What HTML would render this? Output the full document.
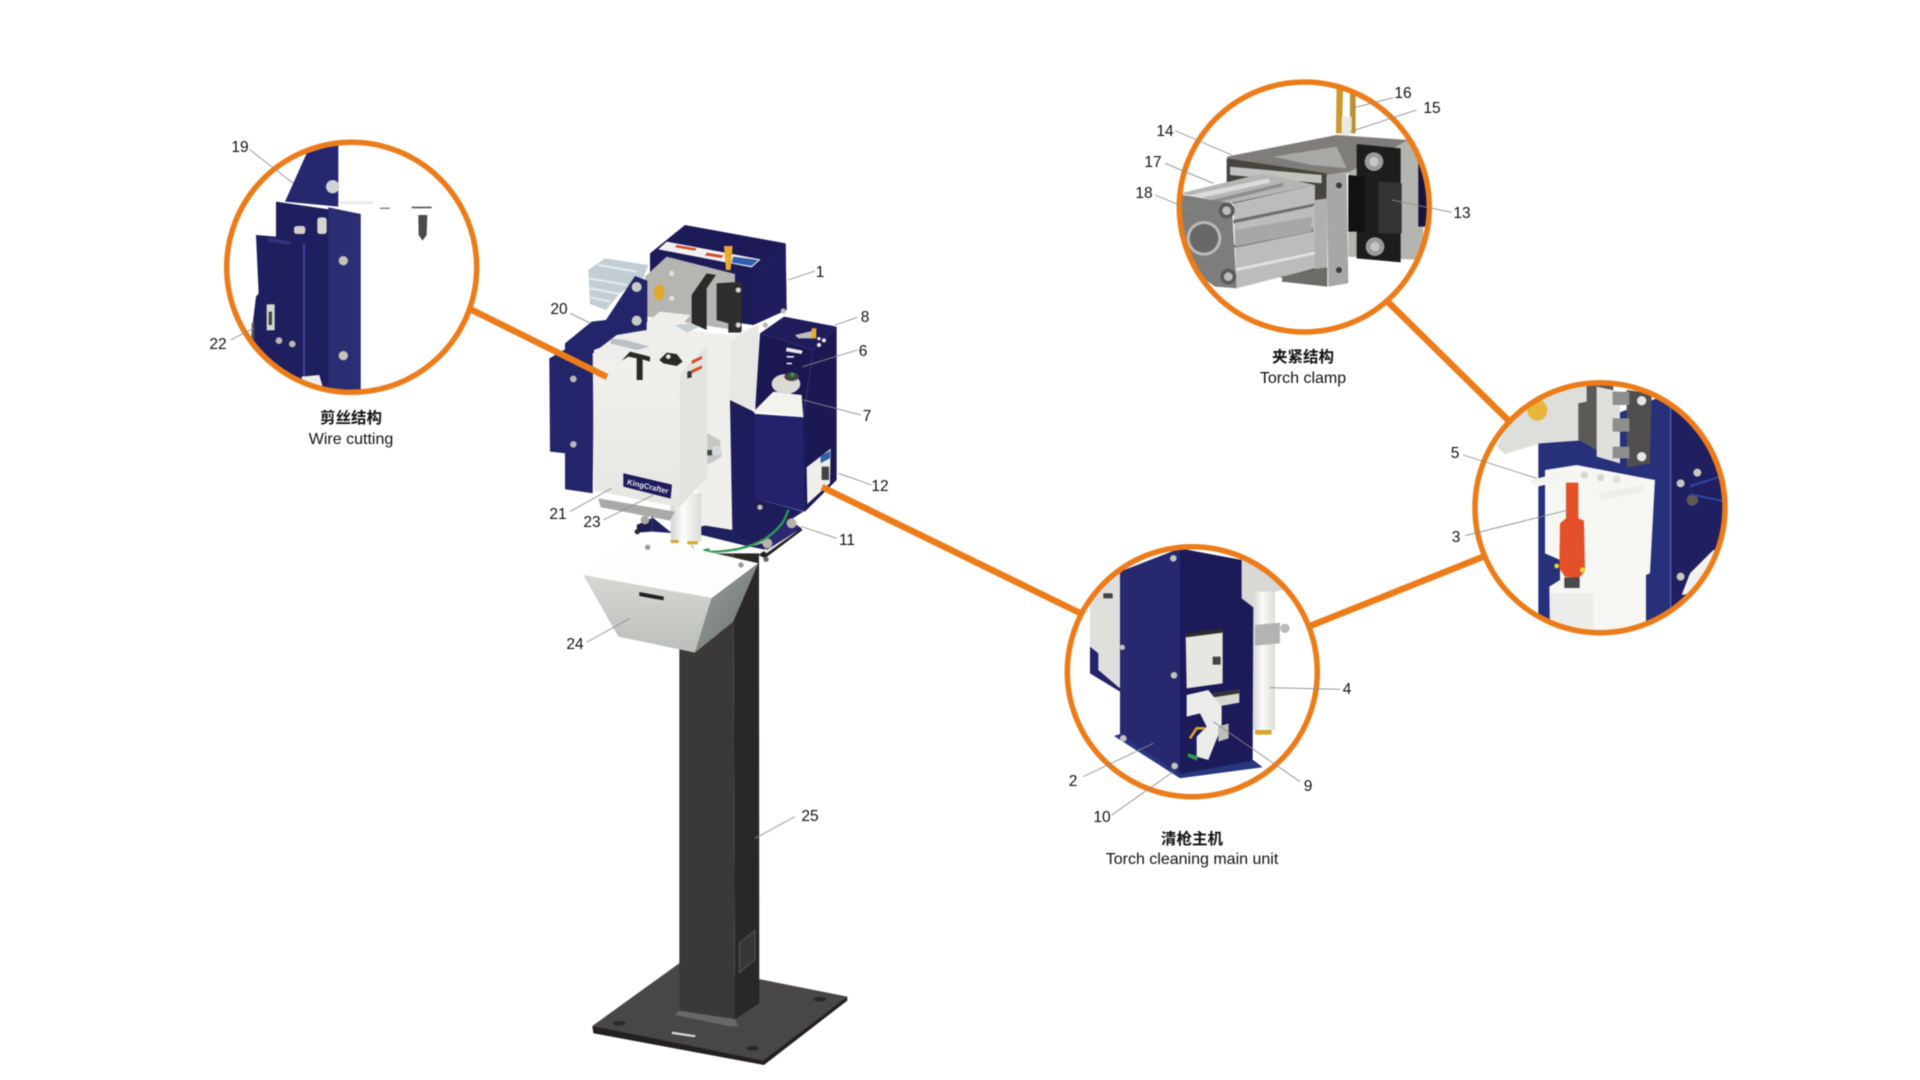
<!DOCTYPE html>
<html><head><meta charset="utf-8"><title>Torch cleaning station</title>
<style>
html,body{margin:0;padding:0;background:#fff;width:1920px;height:1080px;overflow:hidden}
svg{display:block;filter:blur(.45px)}
text{font-family:"Liberation Sans","Noto Sans CJK SC",sans-serif;fill:#111;text-anchor:middle}
.n{font-size:15.5px}
.c{font-size:15.5px;font-weight:700}
.e{font-size:16px}
.l line{stroke:#8c8c8c;stroke-width:2.6}
</style></head><body>
<svg width="1920" height="1080" viewBox="0 0 1920 1080" xmlns="http://www.w3.org/2000/svg">
<defs>
<clipPath id="ca"><circle cx="351.7" cy="267.3" r="125"/></clipPath>
<clipPath id="cb"><circle cx="1304.3" cy="207" r="125"/></clipPath>
<clipPath id="cc"><circle cx="1192.3" cy="671.7" r="125"/></clipPath>
<clipPath id="cd"><circle cx="1600" cy="507.7" r="125"/></clipPath>
<linearGradient id="hop" x1="0" y1="0" x2="0" y2="1"><stop offset="0" stop-color="#d6d8d3"/><stop offset="1" stop-color="#bcbfb9"/></linearGradient>
<linearGradient id="hop2" x1="0" y1="0" x2="1" y2="1"><stop offset="0" stop-color="#9aa09b"/><stop offset="1" stop-color="#6b716d"/></linearGradient>
<linearGradient id="cov" x1="0" y1="0" x2="0" y2="1"><stop offset="0" stop-color="#f1f2ee"/><stop offset="1" stop-color="#e6e7e3"/></linearGradient>
<linearGradient id="cyl" x1="0" y1="0" x2="1" y2="0"><stop offset="0" stop-color="#d5d7d3"/><stop offset=".4" stop-color="#fbfbf9"/><stop offset="1" stop-color="#dcddd9"/></linearGradient>
</defs>

<!-- pole and base -->
<g transform="translate(560,620) scale(.3333)">
<polygon points="97,1218 358,1030 862,1130 610,1332" fill="#494745"/>
<polygon points="97,1218 610,1322 862,1130 862,1142 612,1335 100,1240" fill="#232120"/>
<polygon points="345,1185 360,1170 525,1195 535,1220 505,1218" fill="#6a6866"/>
<polygon points="358,-200 520,-200 525,1198 358,1172" fill="#3b3838"/>
<polygon points="520,-200 597,-200 598,1150 525,1198" fill="#2a2727"/>
<polygon points="538,968 585,932 585,1020 538,1058" fill="#393636" stroke="#666" stroke-width="2"/>
<polygon points="337,1235 408,1246 404,1252 335,1242" fill="#d8d8d6"/>
<ellipse cx="177" cy="1210" rx="19" ry="7" fill="#2b2928"/>
<ellipse cx="780" cy="1138" rx="19" ry="7" fill="#2b2928"/>
<ellipse cx="578" cy="1285" rx="19" ry="7" fill="#2b2928"/>
</g>

<!-- main machine -->
<g transform="translate(520,210) scale(.3333)">
<!-- back box -->
<polygon points="390,130 495,45 797,100 800,300 700,345 390,300" fill="#1d1a58"/>
<polygon points="700,190 797,100 800,300 700,345" fill="#201d5e"/>
<polygon points="415,118 440,95 722,148 695,172" fill="#f1f1f1"/>
<polygon points="470,105 530,115 525,122 465,112" fill="#d84a2a"/>
<polygon points="560,128 610,136 605,144 555,136" fill="#d84a2a"/>
<polygon points="640,140 715,150 695,168 635,158" fill="#2f61ab"/>
<polygon points="612,108 638,108 632,180 618,180" fill="#e9ab2d"/>
<!-- cylinder -->
<polygon points="205,180 255,145 385,165 370,205 300,250 258,300 210,282" fill="#c3ced4"/>
<path d="M208,205 L320,225 M210,235 L300,252 M212,262 L270,275 M235,165 L350,185" stroke="#e7ecef" stroke-width="6" fill="none"/>
<!-- bracket -->
<polygon points="375,200 440,140 645,192 645,360 380,320" fill="#b5b5b2"/>
<polygon points="515,255 560,190 588,195 560,235 560,360 515,340" fill="#2b2a2a"/>
<polygon points="590,220 665,215 665,368 625,368 625,340 590,330" fill="#2f2e2e"/>
<ellipse cx="418" cy="247" rx="16" ry="24" fill="#e3a72b"/>
<circle cx="455" cy="190" r="8" fill="#e0e0de"/><circle cx="455" cy="265" r="8" fill="#e0e0de"/>
<circle cx="655" cy="240" r="8" fill="#d5d5d3"/><circle cx="655" cy="345" r="8" fill="#d5d5d3"/>
<!-- left navy plate -->
<polygon points="88,445 135,418 135,400 215,335 258,330 345,198 382,212 382,360 222,420 218,850 135,838 135,730 90,725" fill="#23246a"/>
<circle cx="350" cy="231" r="15" fill="#c8cbc9"/><circle cx="350" cy="332" r="15" fill="#c8cbc9"/>
<circle cx="160" cy="507" r="10" fill="#b8b8b0"/><circle cx="160" cy="703" r="10" fill="#b8b8b0"/>
<!-- body behind -->
<polygon points="395,920 450,965 540,950 630,930 630,570 695,600 700,1008 840,960 740,1020 680,1008 545,975 395,965" fill="#20205f"/>
<polygon points="630,570 695,600 705,610 705,865 850,905 780,950 700,1008 640,960" fill="#1e1c5a"/>
<!-- white rear panel -->
<polygon points="385,350 640,375 715,345 718,570 695,602 630,570 637,960 545,945 500,600" fill="#eff0ec"/>
<polygon points="630,395 715,345 718,570 695,602 628,565" fill="#e7e8e3"/>
<!-- right box -->
<polygon points="720,370 792,320 950,350 880,420" fill="#1f1c5c"/>
<polygon points="720,370 880,420 850,620 705,600 705,610" fill="#1a1752"/>
<polygon points="880,420 950,350 950,810 855,905 705,865 705,612 850,622" fill="#1b1854"/>
<polygon points="705,612 850,622 855,905 705,865" fill="#23226a"/>
<polygon points="705,600 760,545 845,555 850,622" fill="#f2f2ee"/>
<ellipse cx="798" cy="522" rx="43" ry="30" fill="#dbdad2"/>
<ellipse cx="815" cy="500" rx="22" ry="13" fill="#46463f"/>
<circle cx="817" cy="494" r="7" fill="#2c9a4d"/>
<polygon points="800,412 848,422 845,432 798,424" fill="#e6e6ea"/>
<rect x="800" y="438" width="22" height="5" fill="#e6e6ea"/><rect x="800" y="458" width="16" height="5" fill="#e6e6ea"/>
<polygon points="825,375 880,362 884,385 835,385" fill="#bdbdbd"/>
<rect x="875" y="355" width="14" height="30" fill="#e9ab2d"/>
<circle cx="897" cy="405" r="6" fill="#eee"/><circle cx="912" cy="391" r="6" fill="#eee"/><circle cx="897" cy="386" r="5" fill="#eee"/>
<polygon points="860,772 932,716 930,820 862,882" fill="#eeeeea"/>
<rect x="905" y="770" width="22" height="40" fill="#444"/>
<polygon points="902,738 930,722 930,745 902,760" fill="#2f61ab"/>
<circle cx="736" cy="345" r="8" fill="#b9b9b4"/><circle cx="790" cy="303" r="8" fill="#b9b9b4"/><circle cx="720" cy="892" r="8" fill="#b9b9b4"/>
<!-- nozzle behind cover -->
<rect x="452" y="850" width="92" height="145" fill="url(#cyl)"/>
<rect x="452" y="990" width="24" height="9" fill="#d9a52c"/><rect x="502" y="994" width="32" height="9" fill="#d9a52c"/>
<!-- front cover -->
<polygon points="218,430 290,375 380,360 380,338 420,305 512,315 480,350 562,405 480,492" fill="#eeefeb"/>
<polygon points="218,430 480,492 478,892 222,842" fill="url(#cov)"/>
<polygon points="480,492 562,405 562,802 478,892" fill="#e3e4e0"/>
<polygon points="235,865 465,905 450,932 242,892" fill="#a9aaa8"/>
<!-- slots -->
<path d="M305,452 L330,425 L390,440 L390,455 L368,448 L368,510 L350,510 L350,445 L325,440 Z" fill="#2a2929"/>
<path d="M418,450 L440,428 L470,432 L488,455 L470,468 L430,460 Z" fill="#2a2929"/>
<circle cx="445" cy="440" r="7" fill="#e8e8e4"/>
<polygon points="275,385 315,390 390,410 350,420 270,400" fill="#b9c0c4"/>
<polygon points="515,452 546,438 546,447 515,462" fill="#d84a2a"/>
<polygon points="515,480 546,466 546,475 515,490" fill="#d84a2a"/>
<polygon points="502,485 515,482 515,502 502,505" fill="#333"/>
<polygon points="465,345 510,340 540,350 500,368" fill="#c7ced3"/>
<!-- logo -->
<polygon points="310,790 456,824 452,866 310,830" fill="#1d1c5c"/>
<text transform="translate(382,837) rotate(13)" style="font-size:23px;font-weight:700;fill:#e9e9ef">KingCrafter</text>
<!-- side knob -->
<polygon points="562,670 600,690 605,740 562,765" fill="#c7c8c4"/>
<circle cx="590" cy="722" r="15" fill="#d7dadb"/>
<rect x="562" y="720" width="14" height="16" fill="#444"/>
<polygon points="350,945 395,925 395,965 352,968" fill="#1f1e50"/>
<circle cx="375" cy="930" r="13" fill="#a9a9a3"/>
<circle cx="352" cy="965" r="8" fill="#2a2a2a"/>
<!-- mount -->
<polygon points="715,1035 835,950 848,960 735,1045" fill="#222"/>
<polygon points="728,1022 822,957 830,965 740,1030" fill="#e9e9e5"/>
<polygon points="730,985 800,925 845,955 740,1020" fill="#2a2870"/>
<circle cx="815" cy="940" r="15" fill="#b5b5ae"/><circle cx="742" cy="1000" r="15" fill="#b5b5ae"/>
<circle cx="738" cy="1048" r="8" fill="#666"/>
<path d="M805,900 C790,950 735,1025 562,1026" fill="none" stroke="#2b9a4e" stroke-width="7"/>
<path d="M515,1005 L530,1032 L560,1032" fill="none" stroke="#999" stroke-width="3"/>
<polygon points="550,1018 570,1015 565,1035 552,1036" fill="#2b9a4e"/>
<!-- hopper -->
<polygon points="190,1095 345,975 715,1060 575,1165" fill="#fdfdfc"/>
<polygon points="190,1095 575,1165 525,1328 295,1280" fill="url(#hop)"/>
<polygon points="575,1165 715,1060 640,1235 525,1328" fill="url(#hop2)"/>
<polygon points="358,1146 432,1160 430,1172 358,1158" fill="#222"/>
<polygon points="362,1160 436,1172 436,1186 362,1175" fill="#cfd1cc"/>
<circle cx="383" cy="1012" r="8" fill="#999"/><circle cx="663" cy="1065" r="8" fill="#999"/>
<!-- leaders -->
<g class="l">
<line x1="805" y1="210" x2="885" y2="183"/><line x1="945" y1="345" x2="1012" y2="322"/>
<line x1="848" y1="470" x2="1012" y2="420"/><line x1="850" y1="570" x2="1022" y2="615"/>
<line x1="955" y1="790" x2="1055" y2="825"/><line x1="845" y1="950" x2="950" y2="985"/>
<line x1="150" y1="310" x2="212" y2="340"/><line x1="150" y1="905" x2="275" y2="835"/>
<line x1="250" y1="930" x2="400" y2="855"/><line x1="200" y1="1297" x2="330" y2="1225"/>
</g>
</g>
<g class="l" transform="translate(560,620) scale(.3333)"><line x1="705" y1="590" x2="585" y2="655"/></g>

<!-- connectors -->
<g stroke="#ec7c1a" stroke-width="6.5" fill="none">
<line x1="470" y1="309" x2="607" y2="377"/>
<line x1="1385" y1="299" x2="1511" y2="423"/>
<line x1="822" y1="487" x2="1082" y2="614"/>
<line x1="1310" y1="626" x2="1485" y2="556"/>
</g>

<!-- circle A : wire cutting -->
<circle cx="351.7" cy="267.3" r="125" fill="#fff"/>
<g clip-path="url(#ca)"><g transform="translate(200,120) scale(.3333)">
<polygon points="320,100 415,70 415,260 255,245" fill="#26276e"/>
<polygon points="168,345 228,350 228,245 482,282 482,830 340,830 200,740 150,680 168,530 176,520" fill="#1f1e5e"/>
<polygon points="385,262 482,282 482,830 385,820" fill="#2b2d73"/>
<line x1="312" y1="370" x2="312" y2="780" stroke="#33449a" stroke-width="7"/>
<polygon points="205,352 272,365 270,375 205,365" fill="#33347c"/>
<rect x="200" y="553" width="24" height="78" fill="#d6d6d2"/><rect x="206" y="575" width="10" height="40" fill="#444"/>
<circle cx="430" cy="422" r="14" fill="#c3c3b9"/><circle cx="430" cy="707" r="14" fill="#c3c3b9"/>
<circle cx="398" cy="200" r="20" fill="#cfd3d3"/>
<circle cx="237" cy="662" r="10" fill="#b8b8ae"/><circle cx="277" cy="672" r="10" fill="#b8b8ae"/>
<rect x="352" y="292" width="28" height="50" rx="8" fill="#d5d5cf"/>
<rect x="282" y="318" width="34" height="24" rx="8" fill="#cfcfc9"/>
<path d="M655,285 L682,285 L680,345 L668,362 L656,345 Z" fill="#4c4a4a"/>
<polygon points="305,770 358,765 368,800 340,820 305,800" fill="#eeeeea"/>
<rect x="420" y="244" width="100" height="8" fill="#e8e8e8"/>
<rect x="635" y="260" width="60" height="5" fill="#555"/><rect x="540" y="263" width="30" height="4" fill="#777"/>
<polygon points="155,610 163,605 163,660 155,655" fill="#555"/>
</g></g>
<circle cx="351.7" cy="267.3" r="125" fill="none" stroke="#ec7c1a" stroke-width="5.5"/>
<g class="l" transform="translate(200,120) scale(.3333)"><line x1="148" y1="88" x2="280" y2="190"/><line x1="92" y1="660" x2="160" y2="625"/></g>

<!-- circle B : clamp -->
<circle cx="1304.3" cy="207" r="125" fill="#fff"/>
<g clip-path="url(#cb)"><g transform="translate(1130,60) scale(.3333)">
<polygon points="620,60 640,60 636,220 618,220" fill="#c99a2c"/>
<polygon points="660,60 677,60 677,220 660,220" fill="#b9912f"/>
<polygon points="635,170 665,170 665,225 635,225" fill="#e8e8e4"/>
<polygon points="655,240 835,240 880,300 880,600 655,590" fill="#b4b4b1"/>
<polygon points="865,300 900,300 900,500 865,500" fill="#15143a"/>
<polygon points="290,290 620,225 690,230 835,240 650,340 590,350 300,310" fill="#7e7d7a"/>
<polygon points="430,290 620,260 650,325 545,315" fill="#a8a8a5"/>
<polygon points="290,295 590,340 590,680 440,650 290,400" fill="#45443f"/>
<polygon points="300,320 575,345 575,370 300,345" fill="#c2c2bf"/>
<polygon points="555,420 592,415 592,622 555,628" fill="#b0b1ae"/>
<polygon points="460,645 592,622 592,680 455,665" fill="#6d6c69"/>
<polygon points="680,252 812,265 812,607 680,595" fill="#1e1d1d"/>
<polygon points="655,345 705,350 705,515 655,515" fill="#111"/>
<polygon points="745,365 815,370 815,520 745,520" fill="#353434"/>
<circle cx="732" cy="305" r="28" fill="#9a9c9a"/><circle cx="732" cy="305" r="14" fill="#c5c7c5"/>
<circle cx="735" cy="560" r="28" fill="#9a9c9a"/><circle cx="735" cy="560" r="14" fill="#c5c7c5"/>
<polygon points="590,345 650,335 655,670 595,680" fill="#a7a8a5"/>
<circle cx="627" cy="376" r="9" fill="#3c3b39"/><circle cx="627" cy="630" r="9" fill="#3c3b39"/>
<polygon points="150,400 400,340 555,375 300,430" fill="#b5b6b3"/>
<polygon points="180,405 415,355 420,368 185,420" fill="#dbdcda"/>
<polygon points="225,425 460,368 462,378 225,437" fill="#8f908d"/>
<polygon points="310,430 555,375 555,625 320,685" fill="#bcbdba"/>
<polygon points="310,480 555,430 548,440 310,490" fill="#6e6f6c"/>
<polygon points="305,555 548,505 550,515 305,565" fill="#6e6f6c"/>
<polygon points="315,625 555,575 555,583 315,635" fill="#e1e2df"/>
<polygon points="315,510 545,470 545,515 315,560" fill="#a7a8a5"/>
<polygon points="130,400 305,430 320,685 255,680 130,590" fill="#7d7e7b"/>
<circle cx="222" cy="535" r="52" fill="#b9bab7"/><circle cx="222" cy="535" r="43" fill="#666866"/>
<circle cx="290" cy="452" r="24" fill="#5a5b59"/><circle cx="290" cy="452" r="13" fill="#bcbdba"/>
<circle cx="295" cy="650" r="24" fill="#5a5b59"/><circle cx="295" cy="650" r="13" fill="#bcbdba"/>
</g></g>
<circle cx="1304.3" cy="207" r="125" fill="none" stroke="#ec7c1a" stroke-width="5.5"/>
<g class="l" transform="translate(1130,60) scale(.3333)">
<line x1="790" y1="113" x2="665" y2="145"/><line x1="860" y1="150" x2="660" y2="215"/>
<line x1="135" y1="212" x2="305" y2="285"/><line x1="105" y1="310" x2="250" y2="370"/>
<line x1="75" y1="405" x2="185" y2="450"/><line x1="965" y1="457" x2="785" y2="420"/>
</g>

<!-- circle C : main unit -->
<circle cx="1192.3" cy="671.7" r="125" fill="#fff"/>
<g clip-path="url(#cc)"><g transform="translate(1040,530) scale(.3333)">
<polygon points="150,200 240,125 240,480 150,430" fill="#dfe0dc"/>
<polygon points="150,350 175,370 175,420 240,475 240,485 150,430" fill="#23226a"/>
<rect x="190" y="190" width="28" height="15" fill="#444"/>
<polygon points="605,60 760,170 690,190 640,232 605,212" fill="#d8d9d5"/>
<rect x="640" y="185" width="65" height="415" fill="url(#cyl)"/>
<polygon points="645,285 720,278 720,340 645,347" fill="#b3b4b1"/>
<circle cx="735" cy="295" r="14" fill="#b8bab7"/>
<rect x="645" y="600" width="50" height="14" fill="#d9a52c"/>
<polygon points="222,618 420,745 668,712 640,690 420,720 240,612" fill="#27377f"/>
<polygon points="240,125 420,55 420,732 240,612" fill="#27286e"/>
<polygon points="420,55 605,90 605,205 640,232 638,692 420,732" fill="#1c1a58"/>
<polygon points="437,315 548,305 548,460 440,475" fill="#e7e7e1"/>
<polygon points="437,312 548,295 548,308 437,322" fill="#2d2d2d"/>
<rect x="518" y="380" width="24" height="24" fill="#444"/>
<polygon points="520,490 598,478 598,518 520,532" fill="#d8d8d2"/>
<polygon points="520,490 598,478 598,490 520,502" fill="#333"/>
<path d="M440,495 L505,480 L545,530 L545,590 L525,640 L505,690 L470,680 L470,620 L500,590 L480,550 L440,560 Z" fill="#ecedea"/>
<polygon points="535,590 566,580 566,625 535,635" fill="#bcbcb8"/>
<path d="M450,625 L470,595 L495,595" fill="none" stroke="#d4a92a" stroke-width="8"/>
<polygon points="445,670 475,680 470,692 442,680" fill="#2b9a4e"/>
<circle cx="400" cy="85" r="10" fill="#c3c3bb"/><circle cx="402" cy="436" r="10" fill="#c3c3bb"/>
<circle cx="247" cy="352" r="8" fill="#c3c3bb"/><circle cx="250" cy="625" r="10" fill="#c3c3bb"/>
<circle cx="404" cy="708" r="10" fill="#c3c3bb"/>
</g></g>
<circle cx="1192.3" cy="671.7" r="125" fill="none" stroke="#ec7c1a" stroke-width="5.5"/>
<g class="l" transform="translate(1040,530) scale(.3333)">
<line x1="900" y1="478" x2="690" y2="473"/><line x1="780" y1="755" x2="520" y2="575"/>
<line x1="130" y1="740" x2="340" y2="640"/><line x1="215" y1="855" x2="400" y2="725"/>
</g>

<!-- circle D -->
<circle cx="1600" cy="507.7" r="125" fill="#fff"/>
<g clip-path="url(#cd)"><g transform="translate(1430,360) scale(.3333)">
<polygon points="325,250 720,100 900,200 900,830 325,830" fill="#27307a"/>
<polygon points="725,130 900,200 900,830 725,830" fill="#1f1f62"/>
<line x1="722" y1="120" x2="722" y2="760" stroke="#5d6bb5" stroke-width="3"/>
<polygon points="200,260 290,90 470,60 470,240 330,250 225,282" fill="#dededb"/>
<ellipse cx="322" cy="150" rx="30" ry="32" fill="#e7b63a"/>
<polygon points="445,130 470,125 470,60 550,60 550,300 465,250 445,240" fill="#5b5a58"/>
<polygon points="500,80 570,95 570,310 500,290" fill="#dfe0dc"/>
<polygon points="590,90 665,100 660,310 590,322" fill="#514f4e"/>
<rect x="548" y="95" width="50" height="40" fill="#8d8f8e"/><rect x="548" y="175" width="50" height="40" fill="#8d8f8e"/><rect x="548" y="260" width="50" height="35" fill="#8d8f8e"/>
<circle cx="635" cy="122" r="14" fill="#e7e7e5"/><circle cx="635" cy="290" r="14" fill="#e7e7e5"/>
<polygon points="345,330 440,315 675,360 660,640 648,645 648,830 360,830 358,680 390,660 390,600 345,580" fill="#f6f6f3"/>
<rect x="360" y="700" width="130" height="130" fill="#ecece8"/>
<polygon points="300,360 430,330 440,350 315,382" fill="#f3f3f0"/>
<polygon points="505,400 640,375 640,395 515,420" fill="#eeeeea"/>
<circle cx="463" cy="345" r="11" fill="#d8d8d2"/><circle cx="512" cy="353" r="11" fill="#d8d8d2"/><circle cx="560" cy="358" r="11" fill="#dededa"/>
<polygon points="408,368 445,368 445,475 462,482 465,635 445,655 405,650 388,625 390,490 408,475" fill="#e4502a"/>
<rect x="403" y="652" width="46" height="32" fill="#4a4a4a"/>
<circle cx="380" cy="618" r="7" fill="#e6d92d"/><circle cx="458" cy="630" r="8" fill="#e6d92d"/>
<circle cx="752" cy="370" r="12" fill="#c8c8be"/><circle cx="802" cy="338" r="12" fill="#c8c8be"/>
<circle cx="787" cy="420" r="17" fill="#5e5c52"/><circle cx="752" cy="650" r="12" fill="#c8c8be"/>
<polygon points="780,640 850,570 900,570 900,640 790,700 755,705" fill="#f1f1ee"/>
<polygon points="780,375 880,345 880,350 780,382" fill="#3347a0"/>
<polygon points="780,400 880,420 880,426 780,406" fill="#3347a0"/>
</g></g>
<circle cx="1600" cy="507.7" r="125" fill="none" stroke="#ec7c1a" stroke-width="5.5"/>
<g class="l" transform="translate(1430,360) scale(.3333)">
<line x1="100" y1="285" x2="320" y2="355"/><line x1="105" y1="527" x2="415" y2="450"/>
</g>

<!-- number labels -->
<g class="n">
<text x="820" y="277">1</text><text x="865" y="322">8</text><text x="863" y="356">6</text><text x="867" y="421">7</text>
<text x="880" y="491">12</text><text x="847" y="545">11</text><text x="559" y="314">20</text><text x="558" y="519">21</text>
<text x="592" y="527">23</text><text x="575" y="649">24</text><text x="810" y="821">25</text>
<text x="240" y="152">19</text><text x="218" y="349">22</text>
<text x="1403" y="98">16</text><text x="1432" y="113">15</text><text x="1165" y="136">14</text><text x="1153" y="167">17</text><text x="1144" y="198">18</text><text x="1462" y="218">13</text>
<text x="1455" y="458">5</text><text x="1456" y="542">3</text>
<text x="1347" y="694">4</text><text x="1308" y="791">9</text><text x="1073" y="786">2</text><text x="1102" y="822">10</text>
</g>

<!-- captions -->
<text class="c" x="351" y="423">剪丝结构</text><text class="e" x="351" y="444">Wire cutting</text>
<text class="c" x="1303" y="362">夹紧结构</text><text class="e" x="1303" y="383">Torch clamp</text>
<text class="c" x="1192" y="844">清枪主机</text><text class="e" x="1192" y="864">Torch cleaning main unit</text>
</svg>
</body></html>
